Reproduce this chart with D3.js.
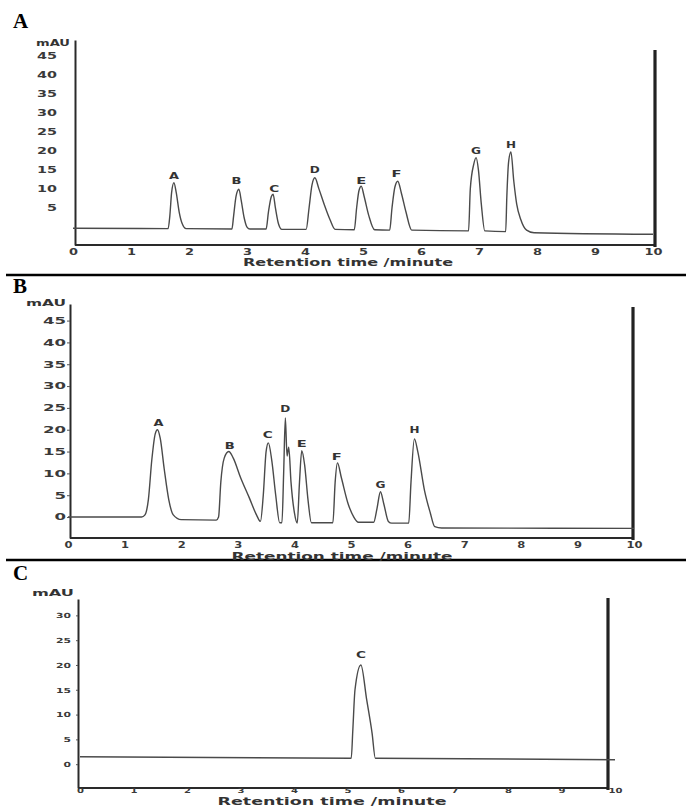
<!DOCTYPE html>
<html>
<head>
<meta charset="utf-8">
<script src="https://cdn.jsdelivr.net/npm/d3@7"></script>
<style>
  body { margin: 0; background: #fff; }
  svg { display: block; }
  .tick text { font-family: "DejaVu Sans", sans-serif; font-weight: bold; fill: #3a3a3a; }
  .domain { stroke: #2a2a2a; stroke-width: 2px; }
  .tick line { stroke: #555; }
</style>
</head>
<body>
<div id="chart"></div>
<script>

// ---------------------------------------------------------------------------
// data (time in minutes, signal in mAU)
//

var timeTicks = [0, 1, 2, 3, 4, 5, 6, 7, 8, 9, 10];
var mauTicksA = [5, 10, 15, 20, 25, 30, 35, 40, 45];
var mauTicksB = [0, 5, 10, 15, 20, 25, 30, 35, 40, 45];
var mauTicksC = [0, 5, 10, 15, 20, 25, 30];

var traceA = [
  [0, -0.3], [1.64, -0.4], [1.67, 3], [1.70, 9], [1.74, 11.6], [1.78, 9], [1.83, 4], [1.88, 1], [1.95, -0.4],
  [2.74, -0.5], [2.77, 3], [2.81, 8], [2.86, 9.9], [2.90, 7], [2.95, 2.5], [3.00, 0], [3.05, -0.5],
  [3.33, -0.5], [3.37, 4], [3.42, 8], [3.45, 8.6], [3.49, 5], [3.54, 1], [3.60, -0.6],
  [4.02, -0.6], [4.07, 5], [4.12, 11], [4.17, 12.9], [4.24, 10], [4.33, 6], [4.43, 2], [4.52, -0.6],
  [4.85, -0.7], [4.89, 5], [4.93, 9.5], [4.97, 10.7], [5.02, 8], [5.10, 3], [5.20, -0.7],
  [5.46, -0.8], [5.50, 5], [5.55, 10.5], [5.60, 12], [5.66, 9], [5.74, 4], [5.84, -0.8],
  [6.82, -1.0], [6.85, 10], [6.91, 16.5], [6.95, 18.2], [6.99, 15], [7.04, 6], [7.10, -1.0],
  [7.46, -1.2], [7.48, 8], [7.51, 17], [7.55, 19.7], [7.60, 12], [7.65, 6], [7.72, 2], [7.82, -0.8], [7.95, -1.5],
  [10, -1.9]
];
var peaksA = ["A", "B", "C", "D", "E", "F", "G", "H"];
var peakTimesA = [1.74, 2.82, 3.47, 4.17, 4.97, 5.58, 6.95, 7.55];
var peakLabelMauA = [13.2, 11.9, 9.9, 14.9, 12.0, 13.9, 20.0, 21.5];

var traceB = [
  [0, 0], [1.30, 0], [1.36, 0.5], [1.42, 4], [1.48, 13], [1.54, 19], [1.58, 20], [1.63, 18], [1.70, 11], [1.78, 4], [1.86, 0.5], [2.00, -0.6],
  [2.62, -0.7], [2.66, 0], [2.70, 8], [2.76, 13.5], [2.84, 15], [2.92, 13.5], [3.05, 9], [3.20, 4.5], [3.33, 0.5], [3.40, -1],
  [3.45, 5], [3.50, 15], [3.54, 17], [3.60, 13], [3.67, 5], [3.74, -1.3],
  [3.78, -1.3], [3.81, 10], [3.84, 22.7], [3.87, 14], [3.90, 16], [3.94, 8], [4.00, 1], [4.05, -1.4],
  [4.09, 8], [4.13, 15.2], [4.18, 12], [4.24, 4], [4.30, -1.3],
  [4.68, -1.3], [4.72, 8], [4.76, 12.4], [4.83, 9], [4.95, 3], [5.05, 0], [5.13, -1.2],
  [5.40, -1.2], [5.46, 2], [5.52, 5.8], [5.58, 3], [5.66, -1], [5.72, -1.4],
  [6.02, -1.4], [6.06, 8], [6.12, 17.9], [6.18, 15], [6.30, 6], [6.40, 1], [6.48, -2.2], [6.60, -2.5],
  [10, -2.6]
];
var peaksB = ["A", "B", "C", "D", "E", "F", "G", "H"];
var peakTimesB = [1.6, 2.86, 3.53, 3.84, 4.13, 4.75, 5.52, 6.12];
var peakLabelMauB = [21.4, 16.2, 18.7, 24.8, 16.6, 13.7, 7.4, 19.9];

var traceC = [
  [0, 1.5], [5.07, 1.2], [5.10, 7], [5.14, 15], [5.25, 20], [5.36, 12.9], [5.46, 6.2], [5.52, 1.2],
  [10, 0.9]
];
var peaksC = ["C"];
var peakTimesC = [5.25];
var peakLabelMauC = [21.9];

// ---------------------------------------------------------------------------
// page
//

var outerWidth = 686,
    outerHeight = 807;

var svg = d3.select("#chart").append("svg")
    .attr("width", outerWidth)
    .attr("height", outerHeight);

svg.append("rect")
    .attr("width", outerWidth)
    .attr("height", outerHeight)
    .attr("fill", "#fff");

// panel separators
[275, 560].forEach(function(yy) {
  svg.append("line")
      .attr("x1", 6).attr("x2", outerWidth)
      .attr("y1", yy).attr("y2", yy)
      .attr("stroke", "#000")
      .attr("stroke-width", 2.5);
});

// the scanned print uses a very wide face, so text is stretched to its measured width
function widen(sel, perChar) {
  sel.attr("textLength", function() { return this.textContent.length * perChar; })
     .attr("lengthAdjust", "spacingAndGlyphs");
}

function chromatogram(o) {
  var g = svg.append("g");

  var x = d3.scaleLinear().domain([0, 10]).range([o.left, o.right]);
  var y = d3.scaleLinear().domain(o.mauDomain).range([o.bottom, o.top]);

  // panel letter
  g.append("text")
      .attr("x", 13)
      .attr("y", o.letterY)
      .attr("font-family", "Liberation Serif, serif")
      .attr("font-weight", "bold")
      .attr("font-size", 21)
      .attr("fill", "#000")
      .text(o.letter);

  // y axis
  var yAxis = g.append("g")
      .attr("transform", "translate(" + o.axisX + ",0)")
      .call(d3.axisLeft(y).tickValues(o.mauTicks).tickSize(o.yTickSize).tickSizeOuter(0).tickPadding(o.yPad))
      .attr("font-size", o.tickFont);
  widen(yAxis.selectAll("text"), o.yDigitW);

  // x axis
  var xAxis = g.append("g")
      .attr("transform", "translate(0," + o.bottom + ")")
      .call(d3.axisBottom(x).tickValues(timeTicks).tickSize(0).tickPadding(o.xPad))
      .attr("font-size", o.tickFont);
  xAxis.select(".domain").attr("d", "M" + o.axisX + ",0H" + o.rightX);
  widen(xAxis.selectAll("text"), o.xDigitW);

  // right border of the recorder trace
  g.append("line")
      .attr("x1", o.rightX).attr("x2", o.rightX)
      .attr("y1", o.rightTop).attr("y2", o.bottom + 2)
      .attr("stroke", "#222")
      .attr("stroke-width", 3.2);

  // unit
  g.append("text")
      .attr("x", o.mauX)
      .attr("y", o.mauY)
      .attr("dy", "0.35em")
      .attr("text-anchor", "end")
      .attr("font-family", "DejaVu Sans, sans-serif")
      .attr("font-weight", "bold")
      .attr("font-size", 8)
      .attr("fill", "#333")
      .attr("textLength", o.mauW)
      .attr("lengthAdjust", "spacingAndGlyphs")
      .text("mAU");

  // axis title
  g.append("text")
      .attr("x", o.titleX)
      .attr("y", o.titleY)
      .attr("text-anchor", "middle")
      .attr("font-family", "DejaVu Sans, sans-serif")
      .attr("font-weight", "bold")
      .attr("font-size", o.titleFont)
      .attr("fill", "#333")
      .attr("textLength", o.titleW)
      .attr("lengthAdjust", "spacingAndGlyphs")
      .text("Retention  time /minute");

  // trace
  var line = d3.line()
      .x(function(d) { return x(d[0]); })
      .y(function(d) { return y(d[1]); })
      .curve(d3.curveMonotoneX);

  g.append("path")
      .datum(o.trace)
      .attr("fill", "none")
      .attr("stroke", "#4a4a4a")
      .attr("stroke-width", 1.4)
      .attr("d", line);

  // peak labels
  g.selectAll(".peak")
      .data(o.peaks)
    .enter().append("text")
      .attr("class", "peak")
      .attr("x", function(d, i) { return x(o.peakTimes[i]); })
      .attr("y", function(d, i) { return y(o.peakLabelMau[i]); })
      .attr("dy", "0.35em")
      .attr("text-anchor", "middle")
      .attr("font-family", "DejaVu Sans, sans-serif")
      .attr("font-weight", "bold")
      .attr("font-size", 8)
      .attr("fill", "#333")
      .attr("textLength", 10)
      .attr("lengthAdjust", "spacingAndGlyphs")
      .text(function(d) { return d; });
}

chromatogram({
  letter: "A", letterY: 28,
  left: 73, right: 653, top: 40, bottom: 245, mauDomain: [-4.7, 49],
  axisX: 75, yTickSize: 0, yPad: 18, mauTicks: mauTicksA,
  tickFont: 8.5, yDigitW: 10, xDigitW: 9, xPad: 4,
  rightX: 655, rightTop: 50,
  mauX: 70, mauY: 43, mauW: 34,
  titleX: 348, titleY: 266, titleW: 210, titleFont: 11,
  trace: traceA, peaks: peaksA, peakTimes: peakTimesA, peakLabelMau: peakLabelMauA
});

chromatogram({
  letter: "B", letterY: 293,
  left: 68, right: 634, top: 304, bottom: 538, mauDomain: [-4.8, 48.8],
  axisX: 70, yTickSize: 3, yPad: 1, mauTicks: mauTicksB,
  tickFont: 9, yDigitW: 11.5, xDigitW: 8, xPad: 4,
  rightX: 633, rightTop: 307,
  mauX: 66, mauY: 303, mauW: 40,
  titleX: 342, titleY: 560, titleW: 221, titleFont: 11,
  trace: traceB, peaks: peaksB, peakTimes: peakTimesB, peakLabelMau: peakLabelMauB
});

chromatogram({
  letter: "C", letterY: 580,
  left: 80, right: 615, top: 599, bottom: 788, mauDomain: [-4.8, 33.3],
  axisX: 78, yTickSize: 2, yPad: 5, mauTicks: mauTicksC,
  tickFont: 7, yDigitW: 7.5, xDigitW: 7, xPad: 0,
  rightX: 608, rightTop: 598,
  mauX: 74, mauY: 593, mauW: 42,
  titleX: 332, titleY: 805, titleW: 229, titleFont: 10,
  trace: traceC, peaks: peaksC, peakTimes: peakTimesC, peakLabelMau: peakLabelMauC
});

</script>
</body>
</html>
